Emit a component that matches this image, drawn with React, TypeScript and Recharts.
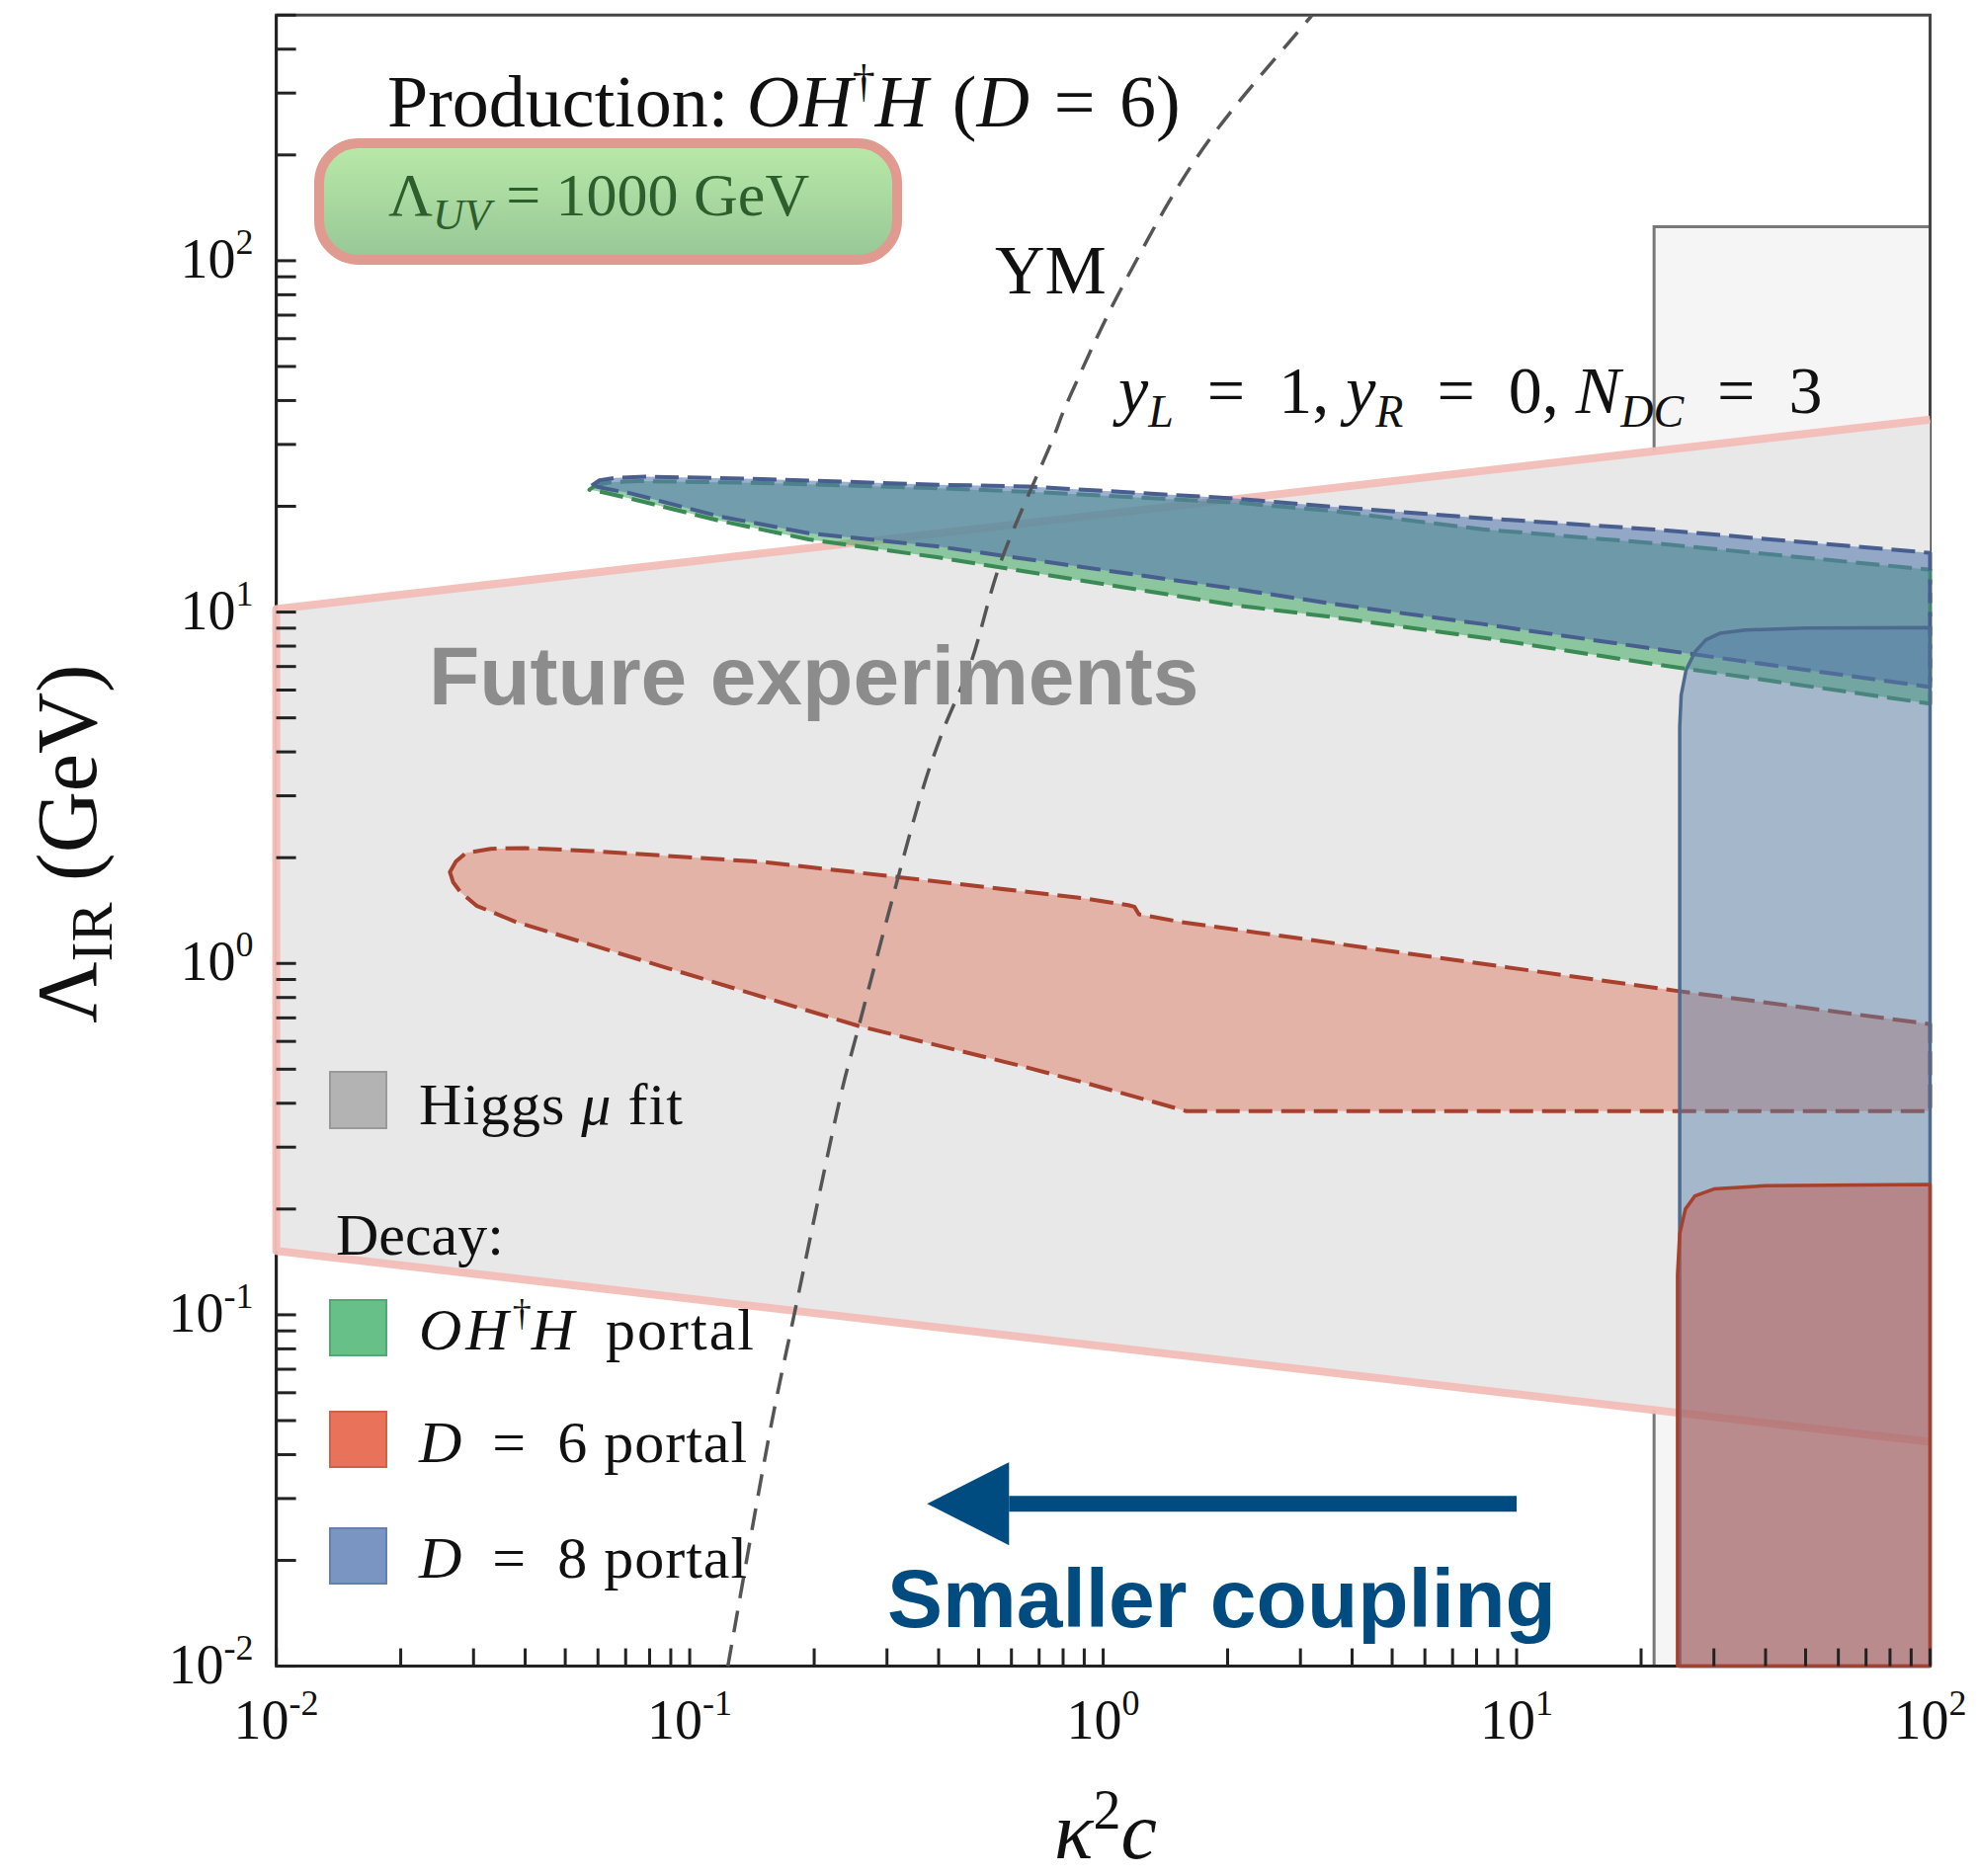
import React from 'react';
import { ComposedChart, XAxis, YAxis, Scatter, ReferenceArea, ReferenceLine } from 'recharts';

const W = 1986;
const H = 1883;
const MARGIN = { top: 7.3, right: 40.5, bottom: 84.4, left: 71.6 };
const Y_AXIS_W = 200;
const X_AXIS_H = 120;

const xDomain = [0.01, 100];
const yDomain = [0.01, 500];

const xTicks = [
  0.01, 0.02, 0.03, 0.04, 0.05, 0.06, 0.07, 0.08, 0.09,
  0.1, 0.2, 0.3, 0.4, 0.5, 0.6, 0.7, 0.8, 0.9,
  1, 2, 3, 4, 5, 6, 7, 8, 9,
  10, 20, 30, 40, 50, 60, 70, 80, 90, 100,
];
const yTicks = [
  0.01, 0.02, 0.03, 0.04, 0.05, 0.06, 0.07, 0.08, 0.09,
  0.1, 0.2, 0.3, 0.4, 0.5, 0.6, 0.7, 0.8, 0.9,
  1, 2, 3, 4, 5, 6, 7, 8, 9,
  10, 20, 30, 40, 50, 60, 70, 80, 90,
  100, 200, 300, 400, 500,
];
const majorTicks = [0.01, 0.1, 1, 10, 100];
const tickExponents = ['-2', '-1', '0', '1', '2'];

// Higgs mu fit / future experiments band
const higgsBand = [
  { x: 0.01, y: 0.152 }, { x: 0.01, y: 10.2 }, { x: 100, y: 35.3 }, { x: 100, y: 0.0435 },
];
const higgsEdge = [
  { x: 100, y: 0.0435 }, { x: 0.01, y: 0.152 }, { x: 0.01, y: 10.2 }, { x: 100, y: 35.3 },
];

// O H^dagger H portal (green, dashed)
const greenBand = [
  { x: 0.0572, y: 22.3 }, { x: 0.0595, y: 23.0 }, { x: 0.064, y: 23.4 }, { x: 0.075, y: 23.6 },
  { x: 0.15, y: 23.3 }, { x: 0.4, y: 22.5 }, { x: 0.66, y: 22.0 }, { x: 2.08, y: 20.5 },
  { x: 3.6, y: 19.4 }, { x: 8.26, y: 17.2 }, { x: 21.5, y: 15.7 }, { x: 100, y: 13.2 },
  { x: 100, y: 5.49 }, { x: 21.5, y: 7.11 }, { x: 8.26, y: 8.46 }, { x: 3.6, y: 9.67 },
  { x: 2.08, y: 10.46 }, { x: 0.4, y: 14.3 }, { x: 0.194, y: 16.1 }, { x: 0.118, y: 18.2 },
  { x: 0.0723, y: 21.0 }, { x: 0.062, y: 21.9 },
];

// D = 8 portal (blue, dashed)
const blueBand = [
  { x: 0.0579, y: 22.9 }, { x: 0.0605, y: 23.7 }, { x: 0.066, y: 24.1 }, { x: 0.078, y: 24.3 },
  { x: 0.15, y: 23.9 }, { x: 0.4, y: 23.03 }, { x: 0.658, y: 22.77 }, { x: 2.08, y: 21.05 },
  { x: 3.6, y: 19.94 }, { x: 8.26, y: 18.51 }, { x: 21.5, y: 17.19 }, { x: 100, y: 14.74 },
  { x: 100, y: 6.12 }, { x: 21.5, y: 7.86 }, { x: 8.26, y: 9.25 }, { x: 3.6, y: 10.55 },
  { x: 2.08, y: 11.65 }, { x: 0.4, y: 15.36 }, { x: 0.194, y: 16.77 }, { x: 0.118, y: 18.72 },
  { x: 0.0723, y: 21.74 }, { x: 0.062, y: 22.5 },
];

// D = 6 portal (red, dashed)
const redBand = [
  { x: 0.0263, y: 1.82 }, { x: 0.0272, y: 1.95 }, { x: 0.0287, y: 2.06 }, { x: 0.033, y: 2.12 },
  { x: 0.04, y: 2.13 }, { x: 0.0578, y: 2.09 }, { x: 0.154, y: 1.94 }, { x: 0.32, y: 1.76 },
  { x: 0.913, y: 1.528 }, { x: 1.15, y: 1.465 }, { x: 1.19, y: 1.45 }, { x: 1.22, y: 1.38 },
  { x: 1.53, y: 1.314 }, { x: 24.5, y: 0.835 }, { x: 100, y: 0.672 },
  { x: 100, y: 0.38 }, { x: 1.588, y: 0.38 }, { x: 0.913, y: 0.456 }, { x: 0.628, y: 0.512 },
  { x: 0.256, y: 0.664 }, { x: 0.0881, y: 0.971 }, { x: 0.0379, y: 1.314 }, { x: 0.0305, y: 1.46 },
  { x: 0.0279, y: 1.597 }, { x: 0.0268, y: 1.7 },
];

// D = 8 portal region at large coupling (blue, solid)
const blueRegion = [
  { x: 24.8, y: 0.01 }, { x: 24.8, y: 4.72 }, { x: 25.0, y: 5.8 }, { x: 25.7, y: 6.85 },
  { x: 27, y: 7.7 }, { x: 28.7, y: 8.34 }, { x: 31, y: 8.7 }, { x: 35.8, y: 8.89 },
  { x: 50, y: 9.0 }, { x: 100, y: 9.04 }, { x: 100, y: 0.01 },
];

// D = 6 portal region at large coupling (red, solid)
const redRegion = [
  { x: 24.5, y: 0.01 }, { x: 24.5, y: 0.13 }, { x: 24.8, y: 0.17 }, { x: 25.6, y: 0.2 },
  { x: 27, y: 0.218 }, { x: 30, y: 0.228 }, { x: 40, y: 0.233 }, { x: 100, y: 0.235 },
  { x: 100, y: 0.01 },
];

// YM curve (dashed)
const ymLine = [
  { x: 0.1237, y: 0.01 }, { x: 0.1285, y: 0.0129 }, { x: 0.1553, y: 0.0447 }, { x: 0.1801, y: 0.1038 },
  { x: 0.2269, y: 0.376 }, { x: 0.2561, y: 0.659 }, { x: 0.3485, y: 2.567 }, { x: 0.4041, y: 4.4 },
  { x: 0.48, y: 7.24 }, { x: 0.568, y: 14.1 }, { x: 0.747, y: 30.1 }, { x: 0.83, y: 40.95 },
  { x: 1.115, y: 84.8 }, { x: 1.736, y: 207 }, { x: 3.2, y: 500 },
];

// grey box (large-coupling region)
const boxX = [21.5, 100];
const boxY = [0.01, 125];

// "Smaller coupling" arrow
const arrowSegment = [{ x: 10, y: 0.029 }, { x: 0.375, y: 0.029 }];

const SERIF = '"Liberation Serif", "DejaVu Serif", serif';
const SANS = '"Liberation Sans", Arial, sans-serif';
const EQ = '\u2002=\u2002';

const noShape = () => <g />;

const cleanPts = (pts: any[]) => (pts || []).filter((p) => p && p.x != null && p.y != null);

const pathFrom = (raw: any[], closed: boolean, smooth: boolean) => {
  const pts = cleanPts(raw);
  if (!pts.length) return '';
  if (!smooth || pts.length < 3) {
    return pts.map((p, i) => `${i ? 'L' : 'M'}${p.x.toFixed(2)},${p.y.toFixed(2)}`).join(' ') + (closed ? ' Z' : '');
  }
  let d = `M${pts[0].x.toFixed(2)},${pts[0].y.toFixed(2)}`;
  for (let i = 0; i < pts.length - 1; i++) {
    const p0 = pts[i - 1] || pts[i];
    const p1 = pts[i];
    const p2 = pts[i + 1];
    const p3 = pts[i + 2] || p2;
    const c1x = p1.x + (p2.x - p0.x) / 6;
    const c1y = p1.y + (p2.y - p0.y) / 6;
    const c2x = p2.x - (p3.x - p1.x) / 6;
    const c2y = p2.y - (p3.y - p1.y) / 6;
    d += ` C${c1x.toFixed(2)},${c1y.toFixed(2)} ${c2x.toFixed(2)},${c2y.toFixed(2)} ${p2.x.toFixed(2)},${p2.y.toFixed(2)}`;
  }
  return d + (closed ? ' Z' : '');
};

type RegionStyle = {
  fill?: string;
  fillOpacity?: number;
  stroke?: string;
  strokeWidth?: number;
  dash?: string;
  closed?: boolean;
  smooth?: boolean;
  opacity?: number;
};

const region = (key: string, data: any[], s: RegionStyle) => (
  <Scatter
    key={key}
    name={key}
    data={data}
    isAnimationActive={false}
    shape={noShape}
    lineType="joint"
    line={(p: any) => (
      <path
        d={pathFrom(p.points, !!s.closed, !!s.smooth)}
        fill={s.fill || 'none'}
        fillOpacity={s.fillOpacity ?? 1}
        stroke={s.stroke || 'none'}
        strokeWidth={s.strokeWidth || 0}
        strokeDasharray={s.dash}
        strokeLinejoin="round"
        opacity={s.opacity ?? 1}
      />
    )}
  />
);

const isMajor = (v: number) => majorTicks.indexOf(v) >= 0;
const expOf = (v: number) => tickExponents[majorTicks.indexOf(v)];

const XTick = (props: any) => {
  const { x, y, payload } = props;
  const v = payload.value;
  return (
    <g>
      <line x1={x} y1={y} x2={x} y2={y - 18} stroke="#222" strokeWidth={3} />
      {isMajor(v) && (
        <text x={x} y={y + 73} textAnchor="middle" fontFamily={SERIF} fontSize={56} fill="#111">
          <tspan>10</tspan>
          <tspan dy={-24} fontSize={36}>{expOf(v)}</tspan>
        </text>
      )}
    </g>
  );
};

const YTick = (props: any) => {
  const { x, y, payload } = props;
  const v = payload.value;
  return (
    <g>
      <line x1={x} y1={y} x2={x + 20} y2={y} stroke="#222" strokeWidth={3} />
      {isMajor(v) && (
        <text x={x - 23} y={y + 17} textAnchor="end" fontFamily={SERIF} fontSize={56} fill="#111">
          <tspan>10</tspan>
          <tspan dy={-24} fontSize={36}>{expOf(v)}</tspan>
        </text>
      )}
    </g>
  );
};

const ArrowShape = (props: any) => {
  const { x1, y1, x2, y2 } = props;
  if (x1 == null || x2 == null) return <g />;
  const dir = x2 < x1 ? -1 : 1;
  const headLen = 83;
  const headHalf = 42;
  const baseX = x2 - dir * headLen;
  return (
    <g>
      <line x1={x1} y1={y1} x2={baseX} y2={y2} stroke="#004c80" strokeWidth={16} />
      <polygon
        points={`${x2},${y2} ${baseX},${y2 - headHalf} ${baseX},${y2 + headHalf}`}
        fill="#004c80"
      />
    </g>
  );
};

const Overlay = () => (
  <svg
    width={W}
    height={H + 8}
    style={{ position: 'absolute', left: 0, top: 0, pointerEvents: 'none', overflow: 'visible' }}
  >
    <defs>
      <linearGradient id="uvGrad" x1="0" y1="0" x2="0" y2="1">
        <stop offset="0%" stopColor="#b9eaa8" />
        <stop offset="100%" stopColor="#97c796" />
      </linearGradient>
    </defs>
    {/* Production label */}
    <text x={384} y={120} fontFamily={SERIF} fontSize={74} fill="#111">
      <tspan>Production: </tspan>
      <tspan fontStyle="italic">OH</tspan>
      <tspan dy={-30} fontSize={46}>†</tspan>
      <tspan dy={30} fontStyle="italic">H</tspan>
      <tspan>{'\u2004('}</tspan>
      <tspan fontStyle="italic">D</tspan>
      <tspan>{'\u2004=\u20046)'}</tspan>
    </text>
    {/* Lambda UV box */}
    <rect x={315} y={137} width={585} height={118} rx={40} ry={40} fill="url(#uvGrad)" stroke="#e09a90" strokeWidth={10} />
    <text x={385} y={210} fontFamily={SERIF} fontSize={62} fill="#2d5e2d">
      <tspan>Λ</tspan>
      <tspan dy={14} fontSize={44} fontStyle="italic">UV</tspan>
      <tspan dy={-14}> = 1000 GeV</tspan>
    </text>
    {/* YM */}
    <text x={999} y={289} fontFamily={SERIF} fontSize={70} fill="#111">YM</text>
    {/* couplings */}
    <text x={1124} y={410} fontFamily={SERIF} fontSize={68} fill="#111">
      <tspan fontStyle="italic">y</tspan>
      <tspan dy={14} fontSize={46} fontStyle="italic">L</tspan>
      <tspan dy={-14}>{EQ + '1, '}</tspan>
      <tspan fontStyle="italic">y</tspan>
      <tspan dy={14} fontSize={46} fontStyle="italic">R</tspan>
      <tspan dy={-14}>{EQ + '0, '}</tspan>
      <tspan fontStyle="italic">N</tspan>
      <tspan dy={14} fontSize={46} fontStyle="italic">DC</tspan>
      <tspan dy={-14}>{EQ + '3'}</tspan>
    </text>
    {/* Future experiments */}
    <text x={426} y={705} fontFamily={SANS} fontWeight="bold" fontSize={84} fill="#8c8c8c">Future experiments</text>
    {/* Smaller coupling */}
    <text x={890} y={1639} fontFamily={SANS} fontWeight="bold" fontSize={84} fill="#004c80">Smaller coupling</text>
    {/* Legend */}
    <rect x={326} y={1077} width={57} height={57} fill="#b3b3b3" stroke="#999" strokeWidth={2} />
    <text x={416} y={1130} fontFamily={SERIF} fontSize={60} fill="#111" letterSpacing={1}>
      <tspan>Higgs </tspan>
      <tspan fontStyle="italic">μ</tspan>
      <tspan> fit</tspan>
    </text>
    <text x={332} y={1262} fontFamily={SERIF} fontSize={60} fill="#111">Decay:</text>
    <rect x={326} y={1308} width={57} height={56} fill="#66c087" stroke="#53a872" strokeWidth={2} />
    <text x={416} y={1358} fontFamily={SERIF} fontSize={60} fill="#111">
      <tspan fontStyle="italic" letterSpacing={4}>OH</tspan>
      <tspan dy={-24} fontSize={38}>†</tspan>
      <tspan dy={24} fontStyle="italic">H</tspan>
      <tspan letterSpacing={2}>{'\u2002portal'}</tspan>
    </text>
    <rect x={326} y={1421} width={57} height={56} fill="#e8735a" stroke="#d0604a" strokeWidth={2} />
    <text x={416} y={1472} fontFamily={SERIF} fontSize={60} fill="#111">
      <tspan fontStyle="italic">D</tspan>
      <tspan letterSpacing={1}>{EQ + '6 portal'}</tspan>
    </text>
    <rect x={326} y={1539} width={57} height={56} fill="#7b95c2" stroke="#6480b0" strokeWidth={2} />
    <text x={416} y={1589} fontFamily={SERIF} fontSize={60} fill="#111">
      <tspan fontStyle="italic">D</tspan>
      <tspan letterSpacing={1}>{EQ + '8 portal'}</tspan>
    </text>
    {/* Axis titles */}
    <text transform="translate(89, 846) rotate(-90)" textAnchor="middle" fontFamily={SERIF} fontSize={86} fill="#111">
      <tspan>Λ</tspan>
      <tspan dy={16} fontSize={60}>IR</tspan>
      <tspan dy={-16}> (GeV)</tspan>
    </text>
    <text x={1111} y={1873} textAnchor="middle" fontFamily={SERIF} fontSize={82} fill="#111">
      <tspan fontStyle="italic">κ</tspan>
      <tspan dy={-30} fontSize={56}>2</tspan>
      <tspan dy={30} fontStyle="italic">c</tspan>
    </text>
  </svg>
);

export default function App() {
  return (
    <div style={{ position: 'relative', width: W, height: H, background: '#fff' }}>
      <ComposedChart width={W} height={H} margin={MARGIN}>
        <XAxis
          type="number"
          dataKey="x"
          scale="log"
          domain={xDomain}
          ticks={xTicks}
          interval={0}
          height={X_AXIS_H}
          tickSize={0}
          tickMargin={0}
          tickLine={false}
          axisLine={{ stroke: '#222', strokeWidth: 3 }}
          tick={<XTick />}
        />
        <YAxis
          type="number"
          dataKey="y"
          scale="log"
          domain={yDomain}
          ticks={yTicks}
          interval={0}
          width={Y_AXIS_W}
          tickSize={0}
          tickMargin={0}
          tickLine={false}
          axisLine={{ stroke: '#222', strokeWidth: 3 }}
          tick={<YTick />}
        />
        {region('higgsBand', higgsBand, { fill: '#e8e8e8', closed: true })}
        {region('higgsEdge', higgsEdge, { stroke: '#f2bdb7', strokeWidth: 8, opacity: 0.95 })}
        {region('greenBand', greenBand, { fill: '#4caf6c', fillOpacity: 0.6, stroke: '#3a8a55', strokeWidth: 4, dash: '24 9', closed: true })}
        {region('blueBand', blueBand, { fill: '#5a7bb0', fillOpacity: 0.6, stroke: '#485e8e', strokeWidth: 4, dash: '24 9', closed: true })}
        {region('redBand', redBand, { fill: '#e0735a', fillOpacity: 0.45, stroke: '#a8402e', strokeWidth: 4, dash: '24 9', closed: true })}
        {region('blueRegion', blueRegion, { fill: '#5a80a8', fillOpacity: 0.47, stroke: '#4d6a8f', strokeWidth: 3.5, closed: true })}
        {region('redRegion', redRegion, { fill: '#c8574a', fillOpacity: 0.5, stroke: '#a8402e', strokeWidth: 3.5, closed: true })}
        <ReferenceArea
          x1={boxX[0]}
          x2={boxX[1]}
          y1={boxY[0]}
          y2={boxY[1]}
          fill="#808080"
          fillOpacity={0.08}
          stroke="#777"
          strokeWidth={3}
        />
        {region('ymLine', ymLine, { stroke: '#555', strokeWidth: 3.5, dash: '22 13', smooth: true })}
        <ReferenceLine segment={arrowSegment} stroke="#004c80" shape={(p: any) => <ArrowShape {...p} />} />
        <ReferenceArea
          x1={xDomain[0]}
          x2={xDomain[1]}
          y1={yDomain[0]}
          y2={yDomain[1]}
          fill="none"
          stroke="#444"
          strokeWidth={3}
        />
      </ComposedChart>
      <Overlay />
    </div>
  );
}
